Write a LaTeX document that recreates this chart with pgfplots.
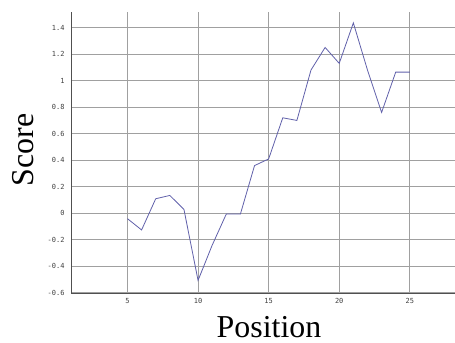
\documentclass[border=0pt]{standalone}
\usepackage{pgfplots}
\pgfplotsset{compat=1.18}
\usepackage{fontspec}
\setmainfont{Liberation Serif}
\newfontfamily\tickfont{DejaVu Sans Mono}
\definecolor{linecol}{RGB}{96,96,170}
\definecolor{gridcol}{RGB}{160,160,160}
\definecolor{axiscol}{RGB}{80,80,80}
\begin{document}
\begin{tikzpicture}
\useasboundingbox (-71bp,-50bp) rectangle (384bp,293bp);
\begin{axis}[
  at={(0,0)}, anchor=south west,
  scale only axis, width=384bp, height=281bp,
  xmin=1, xmax=28.2, ymin=-0.6, ymax=1.517,
  axis x line=bottom, axis y line=left,
  axis line style={-, axiscol, line width=0.9bp},
  xtick={5,10,15,20,25},
  ytick={-0.6,-0.4,-0.2,0,0.2,0.4,0.6,0.8,1,1.2,1.4},
  major tick length=0pt,
  grid=major,
  major grid style={gridcol, line width=1.1bp},
  tick label style={font=\tickfont\fontsize{7}{8}\selectfont, text=black!75},
  /pgf/number format/assume math mode=true,
  yticklabel style={/pgf/number format/fixed, /pgf/number format/precision=1, xshift=-3bp},
  xticklabel style={yshift=-2bp},
]
\addplot[linecol, line width=0.8bp] coordinates {
(5,-0.04) (6,-0.125) (7,0.11) (8,0.135) (9,0.03) (10,-0.505)
(11,-0.24) (12,-0.005) (13,-0.005) (14,0.36) (15,0.41) (16,0.72)
(17,0.70) (18,1.08) (19,1.25) (20,1.13) (21,1.435) (22,1.08)
(23,0.76) (24,1.064) (25,1.064)
};
\end{axis}
\node[anchor=base, font=\fontsize{32}{32}\selectfont] at (198bp,-44bp) {Position};
\node[anchor=base, rotate=90, font=\fontsize{32}{32}\selectfont] at (-38bp,143bp) {Score};
\end{tikzpicture}
\end{document}
